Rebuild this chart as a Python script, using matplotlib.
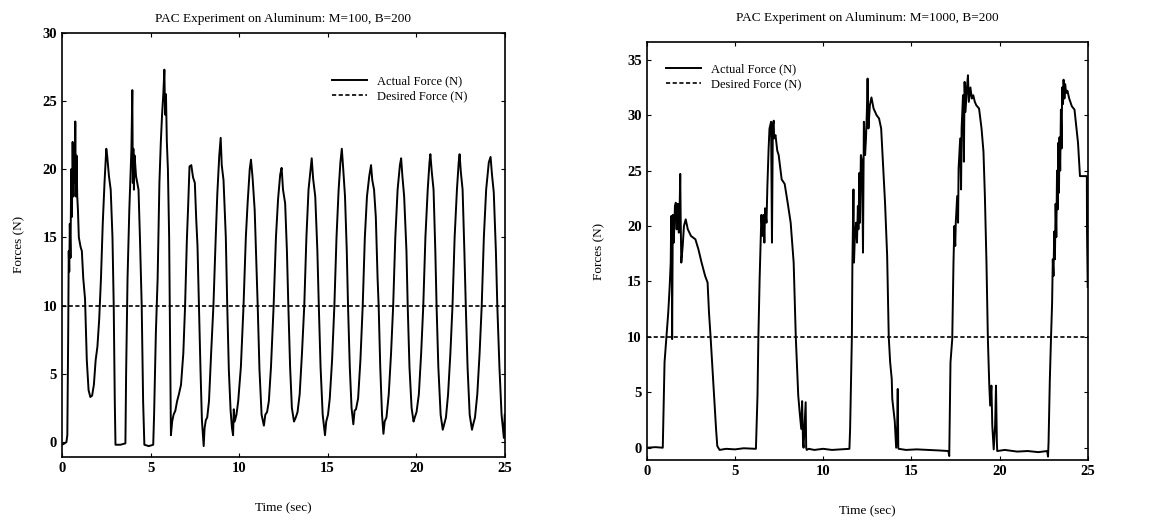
import matplotlib
matplotlib.use("Agg")
import matplotlib.pyplot as plt

plt.rcParams['font.family'] = ['Liberation Serif', 'DejaVu Serif']

# desired force set point (N)
desired_force = 10

# M=100, B=200 : actual force
left_t = [0.0, 0.15, 0.25, 0.3, 0.35, 0.38, 0.41, 0.44, 0.48, 0.52, 0.56, 0.6, 0.64, 0.68, 0.72, 0.75,
          0.78, 0.82, 0.86, 0.9, 0.95, 1.05, 1.12, 1.2, 1.3, 1.4, 1.5, 1.6, 1.7, 1.8, 1.9, 2.0,
          2.1, 2.2, 2.3, 2.4, 2.5, 2.55, 2.65, 2.75, 2.85, 2.92, 2.98, 3.02, 3.3, 3.58, 3.62, 3.7,
          3.8, 3.88, 3.92, 3.97, 4.0, 4.03, 4.06, 4.1, 4.18, 4.25, 4.32, 4.4, 4.5, 4.58, 4.65, 4.9,
          5.15, 5.2, 5.3, 5.4, 5.5, 5.58, 5.65, 5.72, 5.78, 5.82, 5.87, 5.92, 5.98, 6.05, 6.1, 6.15,
          6.22, 6.3, 6.4, 6.5, 6.6, 6.72, 6.85, 6.95, 7.05, 7.12, 7.2, 7.3, 7.4, 7.5, 7.58, 7.65,
          7.73, 7.82, 7.9, 8.0,
          8.05, 8.12, 8.2, 8.3, 8.42, 8.55, 8.68, 8.77, 8.88, 8.96, 9.02, 9.12, 9.25, 9.33, 9.42, 9.52, 9.6, 9.66,
          9.7, 9.75, 9.85, 9.95, 10.1, 10.25, 10.38, 10.48, 10.6, 10.67, 10.76, 10.88, 10.97, 11.05, 11.15, 11.27, 11.4,
          11.48, 11.58, 11.68, 11.8, 11.95, 12.08, 12.2, 12.32, 12.4, 12.48, 12.6, 12.7, 12.78, 12.88, 12.98, 13.1,
          13.2, 13.3, 13.42, 13.55, 13.68, 13.8, 13.92, 14.1, 14.18, 14.3, 14.42, 14.5, 14.6, 14.72, 14.85,
          14.92, 15.02, 15.12, 15.25, 15.38, 15.5, 15.62, 15.72, 15.8, 15.88, 15.98, 16.08, 16.15, 16.25, 16.35, 16.45,
          16.52, 16.6, 16.72, 16.85, 16.98, 17.1, 17.22, 17.35, 17.45, 17.52, 17.62, 17.72, 17.82, 17.88, 17.97, 18.07, 18.15,
          18.22, 18.32, 18.45, 18.58, 18.7, 18.82, 18.95, 19.08, 19.15, 19.22, 19.32, 19.45, 19.52, 19.62, 19.74, 19.85,
          19.92, 20.02, 20.15, 20.28, 20.4, 20.52, 20.65, 20.75, 20.8, 20.88, 20.98, 21.08, 21.15, 21.25, 21.38, 21.5,
          21.58, 21.68, 21.8, 21.93, 22.05, 22.17, 22.3, 22.4, 22.45, 22.52, 22.62, 22.72, 22.8, 22.9, 23.02, 23.15,
          23.22, 23.32, 23.45, 23.58, 23.7, 23.82, 23.95, 24.1, 24.2, 24.28, 24.38, 24.5, 24.58, 24.7, 24.82, 24.9,
          24.95, 25.0]
left_f = [-0.2, -0.1, 0.0, 0.5, 8, 14, 12.5, 16, 13.5, 20, 16.5, 22, 18, 21.5, 19, 23.5,
          18, 21, 18, 17, 15, 14.3, 14, 12, 10.5, 6, 3.8, 3.3, 3.4, 4.2, 6, 7,
          9, 12, 16, 19, 21.5, 21, 19.5, 18.5, 15, 10, 3, -0.2, -0.2, -0.1, 5, 12,
          17, 20, 21.5, 25.8, 19, 21.5, 18.5, 21, 19.5, 19, 18.5, 15, 10, 3, -0.2, -0.3,
          -0.2, 2, 8, 12, 19, 22, 24, 25.5, 27.3, 24, 25.5, 22, 20, 15, 8, 0.5,
          1.5, 2.0, 2.3, 3.0, 3.5, 4.2, 6.5, 10, 14.8, 17.2, 20.2, 20.3, 19.4, 19, 16.3, 14.4,
          10, 5.3, 1.6, -0.3,
          1.0, 1.6, 1.8, 3.0, 6.5, 10, 15, 18.2, 21, 22.3, 20.3, 19.2, 15, 10, 5.3, 2.3, 1.0, 0.5,
          2.4, 1.5, 2.0, 3.0, 5.5, 10, 15, 17.5, 20.0, 20.7, 19.4, 17, 13.3, 10, 5.3, 2.0, 1.2,
          2.0, 2.2, 3.0, 5.5, 10, 15, 17.8, 19.6, 20.1, 18.5, 17.5, 14, 10, 5.5, 2.5, 1.5,
          1.8, 2.2, 3.5, 6.5, 10, 15, 18.5, 20.8, 19.3, 18, 14, 10, 5.5, 2.0, 0.5,
          1.5, 2.0, 3.2, 6, 10, 15, 18.5, 20.5, 21.5, 20, 18, 14, 10, 5.5, 2.5, 1.3,
          2.3, 2.4, 3.2, 6, 10, 15, 18, 19.5, 20.3, 19.2, 18.5, 16.5, 12, 10, 5.5, 2, 0.6,
          1.5, 1.8, 3.5, 6.5, 10, 15, 18.5, 20.3, 20.8, 19.5, 18.0, 14, 10, 5.5, 2.5, 1.5,
          1.8, 2.2, 3.5, 6.5, 10, 15, 18.5, 20.5, 21.1, 19.8, 18.5, 14, 10, 5.5, 2.0, 0.9,
          1.3, 1.8, 3.5, 6.5, 10, 15, 18.5, 20.5, 21.1, 19.8, 18.5, 14, 10, 5.5, 2.0, 0.9,
          1.3, 1.8, 3.5, 6.5, 10, 15, 18.5, 20.5, 20.9, 19.6, 18.3, 14, 10, 5.5, 2.0, 1.0,
          0.3, 2.0]

# M=1000, B=200 : actual force
right_t = [0.0, 0.5, 0.91, 1.01, 1.12, 1.22, 1.3, 1.36, 1.39, 1.42, 1.44, 1.46, 1.48, 1.53, 1.56, 1.6,
           1.65, 1.7, 1.74, 1.77, 1.82, 1.86, 1.9, 1.93, 1.96, 2.0, 2.04, 2.11, 2.21, 2.33, 2.51, 2.76,
           2.93, 3.11, 3.31, 3.45, 3.53, 3.62, 3.76, 3.93, 4.0, 4.13, 4.5, 5.0, 5.5, 6.19,
           6.28, 6.33, 6.4, 6.45, 6.5, 6.57, 6.62, 6.67, 6.71, 6.79, 6.84, 6.91, 6.96, 7.05, 7.1, 7.15,
           7.2, 7.22, 7.3, 7.4, 7.48, 7.65, 7.82, 7.99, 8.16, 8.33, 8.45, 8.59, 8.67, 8.76, 8.81, 8.86,
           8.89, 8.95, 9.01, 9.04, 9.07, 9.18, 9.5, 10.0, 10.5, 11.0, 11.49,
           11.53, 11.63, 11.66, 11.72, 11.75, 11.8, 11.87, 11.92, 11.97, 12.0, 12.06, 12.09, 12.14, 12.21, 12.26, 12.31,
           12.38, 12.43, 12.48, 12.52, 12.57, 12.65, 12.74, 12.86, 13.03, 13.17, 13.29, 13.41, 13.51, 13.63, 13.72, 13.8,
           13.89, 13.92, 14.06, 14.14, 14.2, 14.23, 14.26, 14.28, 14.7, 15.3, 16.0, 16.6, 17.1,
           17.15, 17.22, 17.32, 17.39, 17.44, 17.49, 17.52, 17.6, 17.65, 17.68, 17.77, 17.82, 17.85, 17.93, 17.98, 18.02,
           18.07, 18.15, 18.21, 18.26, 18.35, 18.43, 18.51, 18.6, 18.68, 18.84, 18.98, 19.09, 19.17, 19.26, 19.34, 19.42,
           19.47, 19.54, 19.59, 19.67, 19.75, 19.8, 19.85, 19.87, 20.3, 21.0, 21.6, 22.2, 22.7,
           22.75, 22.78, 22.85, 22.92, 22.98, 23.02, 23.06, 23.1, 23.14, 23.18, 23.22, 23.26, 23.3, 23.33, 23.37, 23.4,
           23.44, 23.48, 23.52, 23.55, 23.6, 23.63, 23.68, 23.72, 23.78, 23.85, 23.95, 24.1, 24.25, 24.35, 24.45, 24.52,
           24.56, 24.95, 24.96, 25.0]
right_f = [0.0, 0.05, 0.0, 7.7, 10, 12.2, 14.5, 16.7, 20.9, 19.1, 9.8, 15, 21, 18.5, 19.7, 21.8,
           22.1, 19.7, 21.5, 22, 19.4, 21, 24.7, 20, 16.7, 17.5, 18.2, 20, 20.6, 19.7, 19.1, 18.8,
           17.9, 16.7, 15.5, 14.9, 12.2, 10, 6.2, 1.7, 0.15, -0.2, -0.1, -0.15, -0.05, -0.1,
           4.7, 10, 15.2, 18.2, 21, 19.1, 21, 18.5, 21.6, 20.3, 23.6, 27, 28.8, 29.4, 18.5, 29.1,
           29.5, 27.9, 28.2, 26.8, 26.4, 24.2, 23.8, 22.1, 20.3, 16.7, 10, 4.7, 3.2, 1.7, 4.2, 0.5,
           0, 2, 4.1, 0, -0.2, -0.1, -0.2, -0.1, -0.2, -0.15, -0.1,
           1.7, 10, 16.7, 23.3, 16.7, 19.1, 20.3, 18.5, 21.8, 19.7, 24.8, 20.3, 26.4, 25.8, 17.6, 29.4,
           26.4, 27.9, 30.3, 33.3, 28.8, 30.9, 31.6, 30.6, 30, 29.7, 28.8, 25.2, 22.1, 17.3, 10, 7.7,
           6.2, 4.4, 2.4, 0, 2, 5.3, 0, -0.1, -0.2, -0.15, -0.2, -0.25, -0.3,
           -0.75, 7.7, 9.8, 16.7, 20, 18.2, 20.3, 22.7, 20.3, 25.2, 27.9, 23.3, 28.8, 31.8, 25.8, 33,
           30.3, 32.4, 33.6, 31.2, 32.5, 31.5, 31.8, 31.2, 30.9, 30.6, 28.8, 26.7, 22.7, 16.7, 9.8, 5.6,
           3.8, 5.6, 2.0, -0.15, 2, 5.6, 0.5, -0.3, -0.2, -0.35, -0.3, -0.4, -0.3,
           -0.8, 0.5, 6, 10, 13, 17, 15.5, 19.5, 17, 22, 19, 25, 21.5, 27.5, 23, 28,
           25, 30.5, 27, 32.5, 31, 33.2, 31.5, 32.8, 32.0, 32.2, 31.5, 30.8, 30.5, 29.0, 27.5, 25.5,
           24.5, 24.5, 19.5, 14.5]

time_range = [0, 25]

fig = plt.figure(figsize=(11.59, 5.25), dpi=100)
ax1 = fig.add_axes([0.0535, 0.1295, 0.382, 0.808])
ax2 = fig.add_axes([0.558, 0.124, 0.3805, 0.796])

panels = [
    (ax1, left_t, left_f, 'PAC Experiment on Aluminum: M=100, B=200', (-1.1, 30), range(0, 31, 5),
     8, 12, dict(loc='upper left', bbox_to_anchor=(0.595, 0.915))),
    (ax2, right_t, right_f, 'PAC Experiment on Aluminum: M=1000, B=200', (-1.1, 36.6), range(0, 36, 5),
     15, 16, dict(loc='upper left', bbox_to_anchor=(0.03, 0.965))),
]

for ax, t, f, title, ylim, yticks, tpad, ypad, leg_kw in panels:
    ax.plot(t, f, color='black', linewidth=1.4, label='Actual Force (N)')
    ax.plot(time_range, [desired_force, desired_force], color='black', linewidth=1.2,
            linestyle=(0, (2.5, 1.5)), label='Desired Force (N)')
    ax.set_xlim(0, 25)
    ax.set_ylim(*ylim)
    ax.set_xticks(range(0, 26, 5))
    ax.set_yticks(list(yticks))
    ax.tick_params(direction='in', top=True, right=True, length=3, width=0.8, labelsize=10.5)
    for lab in ax.get_xticklabels() + ax.get_yticklabels():
        lab.set_fontweight('bold')
    for sp in ax.spines.values():
        sp.set_linewidth(1.2)
    ax.set_title(title, fontsize=9.5, pad=tpad)
    ax.set_xlabel('Time (sec)', fontsize=9.5, labelpad=20)
    ax.set_ylabel('Forces (N)', fontsize=9.5, labelpad=ypad)
    ax.legend(frameon=False, fontsize=9, handlelength=2.8, handletextpad=0.8,
              borderpad=0, labelspacing=0.25, **leg_kw)

fig.savefig('out.png', dpi=100)
